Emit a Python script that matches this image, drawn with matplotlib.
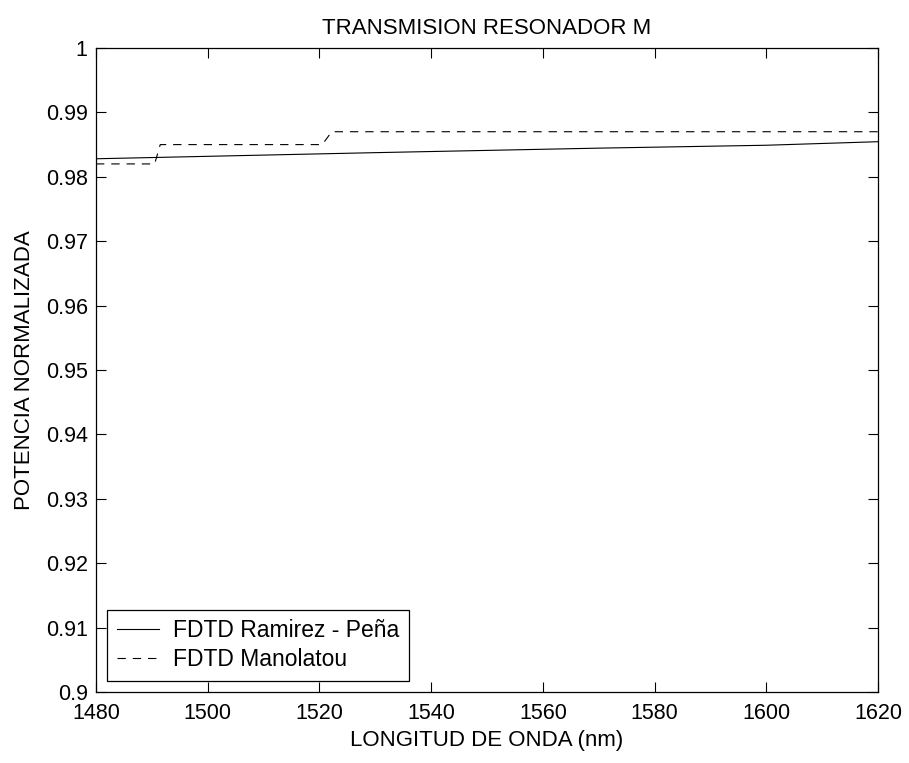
import matplotlib
matplotlib.use("Agg")
import matplotlib.pyplot as plt

plt.rcParams["font.family"] = "Liberation Sans"
plt.rcParams["lines.scale_dashes"] = False

# FDTD Ramirez - Peña (solid)
wl_rp = [1480, 1530, 1570, 1600, 1620]
p_rp = [0.9828, 0.98375, 0.98445, 0.9849, 0.98545]
# FDTD Manolatou (dashed, stepwise)
wl_man = [1480, 1490.5, 1491.5, 1520.5, 1522.2, 1620]
p_man = [0.982, 0.982, 0.985, 0.985, 0.987, 0.987]

xticks = list(range(1480, 1621, 20))
yticks = [0.9, 0.91, 0.92, 0.93, 0.94, 0.95, 0.96, 0.97, 0.98, 0.99, 1.0]
ylabels = ["0.9", "0.91", "0.92", "0.93", "0.94", "0.95", "0.96", "0.97", "0.98", "0.99", "1"]

fs = 15.5
fig = plt.figure(figsize=(9.09, 7.63), dpi=100)
ax = fig.add_axes([96/909, 71/763, 782/909, 644/763])

ax.plot(wl_rp, p_rp, "-", color="black", lw=0.8, label="FDTD Ramirez - Peña")
ax.plot(wl_man, p_man, color="black", lw=0.8, dashes=(6, 5), label="FDTD Manolatou")

ax.set_xlim(1480, 1620); ax.set_ylim(0.9, 1.0)
ax.set_xticks(xticks); ax.set_yticks(yticks); ax.set_yticklabels(ylabels)
ax.tick_params(direction="in", top=True, right=True, length=7, width=0.8,
               labelsize=fs)
ax.tick_params(axis="x", pad=8)
ax.tick_params(axis="y", pad=6)
for s in ax.spines.values():
    s.set_linewidth(0.9)

ax.set_title("TRANSMISION RESONADOR M", fontsize=16, pad=10)
ax.set_xlabel("LONGITUD DE ONDA (nm)", fontsize=16, labelpad=4)
ax.set_ylabel("POTENCIA NORMALIZADA", fontsize=16, labelpad=8)

leg = ax.legend(loc="lower left", fontsize=16.5, frameon=True, fancybox=False,
                framealpha=1, edgecolor="black", handlelength=1.85,
                handletextpad=0.6, labelspacing=0.25, borderpad=0.42,
                borderaxespad=0.5)
leg.get_frame().set_linewidth(0.9)

plt.savefig("out.png", dpi=100)
